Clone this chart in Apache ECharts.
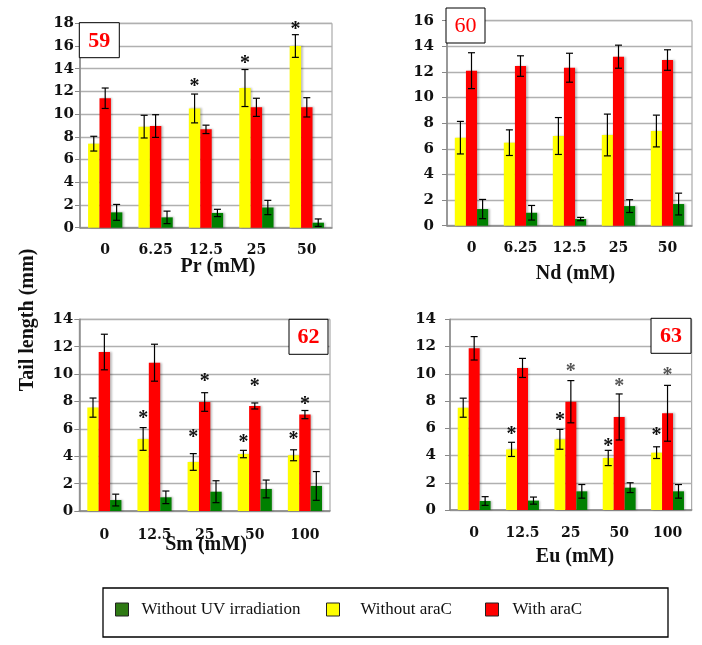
<!DOCTYPE html>
<html><head><meta charset="utf-8">
<script src="https://cdn.jsdelivr.net/npm/echarts@6/dist/echarts.min.js"></script>
<style>html,body{margin:0;padding:0;background:#fff}#c{width:702px;height:645px}</style>
</head><body><div id="c"></div>
<script>
// ---- data ----
const catsA = ['0', '6.25', '12.5', '25', '50'];
const catsB = ['0', '12.5', '25', '50', '100'];

const prYellow = [7.4, 8.9, 10.5, 12.3, 16.0];
const prYellowErr = [0.65, 1.0, 1.27, 1.63, 1.0];
const prRed = [11.4, 8.95, 8.66, 10.6, 10.6];
const prRedErr = [0.9, 1.0, 0.37, 0.8, 0.85];
const prGreen = [1.35, 0.91, 1.3, 1.78, 0.44];
const prGreenErr = [0.7, 0.55, 0.32, 0.63, 0.33];
const prStarY = [null, null, 12.77, 14.77, 17.76];
const prStarR = [null, null, null, null, null];

const ndYellow = [6.87, 6.48, 7.0, 7.08, 7.39];
const ndYellowErr = [1.27, 1.0, 1.44, 1.63, 1.24];
const ndRed = [12.1, 12.46, 12.33, 13.19, 12.93];
const ndRedErr = [1.4, 0.8, 1.13, 0.9, 0.8];
const ndGreen = [1.3, 1.01, 0.52, 1.53, 1.69];
const ndGreenErr = [0.75, 0.57, 0.13, 0.5, 0.85];
const ndStarY = [null, null, null, null, null];
const ndStarR = [null, null, null, null, null];

const smYellow = [7.55, 5.26, 3.58, 4.16, 4.07];
const smYellowErr = [0.7, 0.83, 0.61, 0.27, 0.4];
const smRed = [11.61, 10.83, 7.96, 7.67, 7.04];
const smRedErr = [1.3, 1.35, 0.68, 0.22, 0.3];
const smGreen = [0.8, 1.0, 1.41, 1.61, 1.83];
const smGreenErr = [0.43, 0.46, 0.8, 0.65, 1.05];
const smStarY = [null, 7.01, 5.67, 5.28, 5.5];
const smStarR = [null, null, 9.76, 9.37, 8.06];

const euYellow = [7.51, 4.45, 5.19, 3.82, 4.21];
const euYellowErr = [0.7, 0.52, 0.73, 0.56, 0.43];
const euRed = [11.87, 10.43, 7.95, 6.83, 7.1];
const euRedErr = [0.86, 0.7, 1.55, 1.69, 2.05];
const euGreen = [0.66, 0.69, 1.37, 1.64, 1.37];
const euGreenErr = [0.32, 0.26, 0.5, 0.36, 0.5];
const euStarY = [null, 5.82, 6.85, 4.94, 5.75];
const euStarR = [null, null, 10.45, 9.35, 10.16];

const yMax = [18, 16, 14, 14];
const panelTags = ['59', '60', '62', '63'];
const axisTitles = ['Pr (mM)', 'Nd (mM)', 'Sm (mM)', 'Eu (mM)'];
const yTitle = 'Tail length (mm)';
const nameGreen = 'Without UV irradiation', nameYellow = 'Without araC', nameRed = 'With araC';

// ---- layout ----
const GAP = 0.32;
const grids = [
  {left: 80, top: 23.3, width: 252, height: 204.4},
  {left: 447, top: 20.7, width: 245, height: 205},
  {left: 79.3, top: 319.3, width: 250.7, height: 191.7},
  {left: 450, top: 319.3, width: 241.7, height: 190.7}
];
const labelMargins = [6, 13, 6, 14];
const catMargins = [16, 16, 17, 16];
const panels = [
  {cats: catsA, y: prYellow, yE: prYellowErr, r: prRed, rE: prRedErr, g: prGreen, gE: prGreenErr, sy: prStarY, sr: prStarR, rc: '#111'},
  {cats: catsA, y: ndYellow, yE: ndYellowErr, r: ndRed, rE: ndRedErr, g: ndGreen, gE: ndGreenErr, sy: ndStarY, sr: ndStarR, rc: '#111'},
  {cats: catsB, y: smYellow, yE: smYellowErr, r: smRed, rE: smRedErr, g: smGreen, gE: smGreenErr, sy: smStarY, sr: smStarR, rc: '#111'},
  {cats: catsB, y: euYellow, yE: euYellowErr, r: euRed, rE: euRedErr, g: euGreen, gE: euGreenErr, sy: euStarY, sr: euStarR, rc: '#555'}
];

function renderErr(params, api) {
  const ci = api.value(0), v = api.value(1), e = api.value(2), bi = api.value(3);
  const band = api.size([1, 0])[0];
  const bw = band * (1 - GAP) / 3;
  const c = api.coord([ci, v]);
  const x = c[0] + (bi - 1) * bw;
  const top = api.coord([ci, v + e])[1];
  const bot = api.coord([ci, Math.max(v - e, 0)])[1];
  const cap = 3.5;
  const st = {stroke: '#000', lineWidth: 1.2};
  return {type: 'group', children: [
    {type: 'line', shape: {x1: x, y1: top, x2: x, y2: bot}, style: st},
    {type: 'line', shape: {x1: x - cap, y1: top, x2: x + cap, y2: top}, style: st},
    {type: 'line', shape: {x1: x - cap, y1: bot, x2: x + cap, y2: bot}, style: st}
  ]};
}
function makeStar(color) {
  return function (params, api) {
    const ci = api.value(0), v = api.value(1), bi = api.value(2);
    const band = api.size([1, 0])[0];
    const bw = band * (1 - GAP) / 3;
    const c = api.coord([ci, v]);
    return {type: 'text', x: c[0] + (bi - 1) * bw, y: c[1] + 4,
      style: {text: '*', font: 'bold 20px "Liberation Serif"', fill: bi === 1 ? color : '#111', align: 'center', verticalAlign: 'middle'}};
  };
}

const xAxis = [], yAxis = [], series = [], grid = [];
panels.forEach((p, i) => {
  grid.push(Object.assign({show: true, borderColor: '#999', borderWidth: 1, backgroundColor: '#fff'}, grids[i]));
  xAxis.push({type: 'category', gridIndex: i, data: p.cats,
    axisLine: {lineStyle: {color: '#888', width: 1.5}},
    axisTick: {length: 4, lineStyle: {color: '#888'}},
    axisLabel: {margin: catMargins[i], fontFamily: 'DejaVu Serif', fontWeight: 'bold', fontSize: 14, color: '#111'}});
  yAxis.push({type: 'value', gridIndex: i, min: 0, max: yMax[i], interval: 2,
    axisLine: {show: true, lineStyle: {color: '#888', width: 1.5}},
    axisTick: {show: true, length: 5, lineStyle: {color: '#888'}},
    splitLine: {lineStyle: {color: '#b0b0b0', width: 1.3}},
    axisLabel: {margin: labelMargins[i], fontFamily: 'DejaVu Serif', fontWeight: 'bold', fontSize: 15, color: '#111'}});
  const shadow = {shadowColor: 'rgba(0,0,0,0.25)', shadowBlur: 2, shadowOffsetX: 1.5};
  series.push({type: 'bar', name: nameYellow, xAxisIndex: i, yAxisIndex: i, data: p.y, barGap: '0%', barCategoryGap: (GAP * 100) + '%', itemStyle: Object.assign({color: '#FFFF00'}, shadow)});
  series.push({type: 'bar', name: nameRed, xAxisIndex: i, yAxisIndex: i, data: p.r, barGap: '0%', barCategoryGap: (GAP * 100) + '%', itemStyle: Object.assign({color: '#FF0000'}, shadow)});
  series.push({type: 'bar', name: nameGreen, xAxisIndex: i, yAxisIndex: i, data: p.g, barGap: '0%', barCategoryGap: (GAP * 100) + '%', itemStyle: Object.assign({color: '#008000'}, shadow)});
  const errData = [];
  for (let k = 0; k < p.cats.length; k++) {
    errData.push([k, p.y[k], p.yE[k], 0]);
    errData.push([k, p.r[k], p.rE[k], 1]);
    errData.push([k, p.g[k], p.gE[k], 2]);
  }
  series.push({type: 'custom', xAxisIndex: i, yAxisIndex: i, data: errData, renderItem: renderErr, encode: {x: 0, y: 1}, z: 5, silent: true});
  const starData = [];
  for (let k = 0; k < p.cats.length; k++) {
    if (p.sy[k] != null) starData.push([k, p.sy[k], 0]);
    if (p.sr[k] != null) starData.push([k, p.sr[k], 1]);
  }
  if (starData.length) series.push({type: 'custom', xAxisIndex: i, yAxisIndex: i, data: starData, renderItem: makeStar(p.rc), encode: {x: 0, y: 1}, z: 6, silent: true});
});

const tagBoxes = [
  {x: 79.3, y: 22.7, w: 40, h: 35, bold: true},
  {x: 446, y: 8, w: 39, h: 35, bold: false},
  {x: 289, y: 319.3, w: 39, h: 35, bold: true},
  {x: 651, y: 318.3, w: 40, h: 35, bold: true}
];
const titlePos = [[218, 267], [575.5, 274], [206, 545], [575, 557]];
const graphic = [];
tagBoxes.forEach((b, i) => {
  graphic.push({type: 'rect', shape: {x: b.x, y: b.y, width: b.w, height: b.h}, style: {fill: '#fff', stroke: '#000', lineWidth: 1}, z: 10});
  graphic.push({type: 'text', x: b.x + b.w / 2, y: b.y + b.h / 2 + 1, z: 11,
    style: {text: panelTags[i], font: (b.bold ? 'bold ' : '') + '22px "Liberation Serif"', fill: '#FF0000', align: 'center', verticalAlign: 'middle'}});
});
titlePos.forEach((t, i) => {
  graphic.push({type: 'text', x: t[0], y: t[1], z: 12,
    style: {text: axisTitles[i], font: 'bold 20px "Liberation Serif"', fill: '#111', align: 'center', verticalAlign: 'middle'}});
});
graphic.push({type: 'text', x: 28, y: 320, rotation: Math.PI / 2,
  style: {text: yTitle, font: 'bold 20px "Liberation Serif"', fill: '#111', align: 'center', verticalAlign: 'middle'}});
graphic.push({type: 'rect', shape: {x: 103, y: 588, width: 565, height: 49}, style: {fill: 'transparent', stroke: '#000', lineWidth: 1.3}, z: 0});

const legText = {fontFamily: 'Liberation Serif', fontSize: 17, color: '#111'};
function leg(name, color, left, pad) {
  return {data: [{name: name, itemStyle: {color: color, borderColor: '#222', borderWidth: 1}}],
    left: left, top: 601, padding: 0, itemWidth: 13, itemHeight: 13, icon: 'rect',
    textStyle: Object.assign({padding: [0, 0, 0, pad]}, legText), selectedMode: false};
}

const chart = echarts.init(document.getElementById('c'), null, {renderer: 'canvas'});
chart.setOption({
  animation: false,
  backgroundColor: '#fff',
  grid: grid, xAxis: xAxis, yAxis: yAxis, series: series,
  legend: [leg(nameGreen, '#2f7a14', 115, 8), leg(nameYellow, '#FFFF00', 326, 16), leg(nameRed, '#FF0000', 485, 9)],
  graphic: graphic
});
</script></body></html>
